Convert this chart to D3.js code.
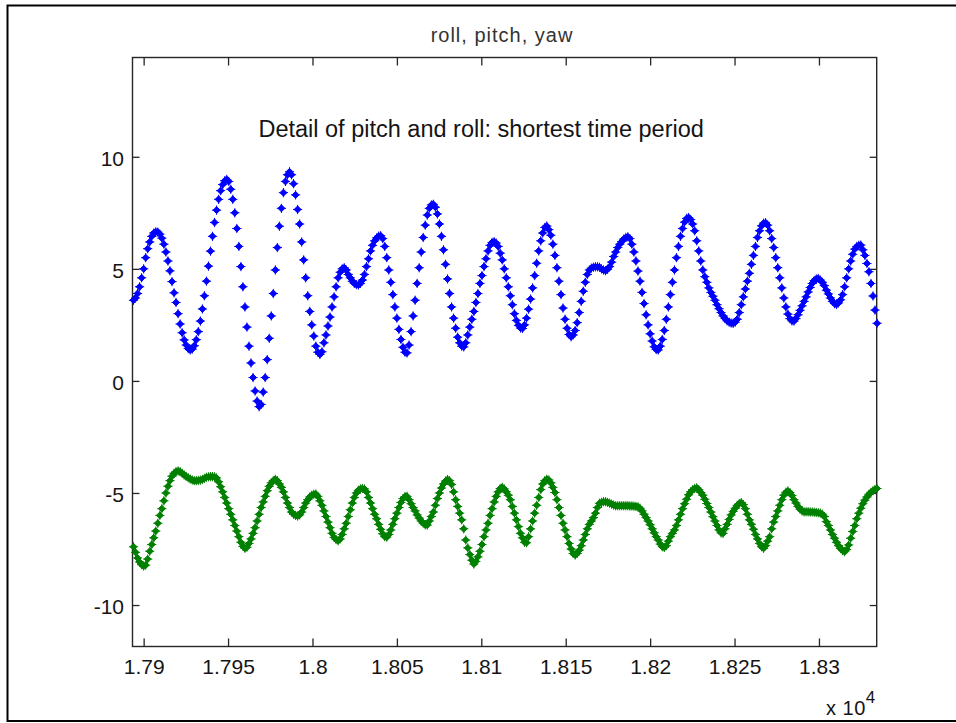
<!DOCTYPE html>
<html>
<head>
<meta charset="utf-8">
<script src="https://cdn.jsdelivr.net/npm/d3@7"></script>
<style>
  body { margin: 0; background: #fff; }
  text { font-family: "Liberation Sans", Arial, sans-serif; fill: #141414; }
</style>
</head>
<body>
<svg id="chart" width="956" height="723"></svg>
<script>
// sample start and spacing (x data, plotted as value / 1e4)
const t0 = 17894;
const dt = 1.2;

// blue series
const pitch = [
    3.6, 3.7, 3.9, 4.2, 4.6, 5.0, 5.5, 5.9, 6.2, 6.45,
    6.6, 6.65, 6.64, 6.55, 6.37, 6.1, 5.75, 5.35, 4.91, 4.43,
    3.93, 3.5, 3.0, 2.54, 2.15, 1.83, 1.6, 1.44, 1.38, 1.42,
    1.57, 1.84, 2.2, 2.67, 3.21, 3.8, 4.45, 5.12, 5.79, 6.45,
    7.07, 7.62, 8.1, 8.49, 8.76, 8.93, 8.99, 8.9, 8.55, 8.1,
    7.5, 6.8, 6.0, 5.1, 4.2, 3.3, 2.4, 1.55, 0.8, 0.15,
    -0.45, -0.9, -1.15, -1.05, -0.5, 0.15, 0.95, 1.9, 2.9, 3.9,
    4.95, 5.95, 6.9, 7.7, 8.4, 8.9, 9.2, 9.33, 9.2, 8.8,
    8.3, 7.65, 7.0, 6.2, 5.4, 4.6, 3.8, 3.1, 2.5, 2.0,
    1.55, 1.28, 1.18, 1.3, 1.7, 2.05, 2.45, 2.85, 3.3, 3.75,
    4.2, 4.6, 4.85, 5.0, 5.05, 4.95, 4.75, 4.6, 4.45, 4.35,
    4.3, 4.28, 4.35, 4.5, 4.75, 5.1, 5.45, 5.8, 6.05, 6.25,
    6.38, 6.46, 6.48, 6.35, 6.0, 5.5, 4.95, 4.4, 3.85, 3.3,
    2.8, 2.3, 1.85, 1.5, 1.28, 1.25, 1.6, 2.2, 2.9, 3.6,
    4.35, 5.05, 5.75, 6.4, 6.95, 7.4, 7.7, 7.85, 7.88, 7.75,
    7.45, 7.0, 6.45, 5.85, 5.2, 4.55, 3.9, 3.3, 2.8, 2.35,
    1.95, 1.7, 1.55, 1.52, 1.7, 2.05, 2.4, 2.75, 3.1, 3.5,
    3.9, 4.35, 4.7, 5.1, 5.45, 5.8, 6.05, 6.18, 6.21, 6.15,
    6.0, 5.7, 5.4, 5.0, 4.6, 4.2, 3.8, 3.4, 3.0, 2.7,
    2.48, 2.36, 2.34, 2.5, 2.8, 3.2, 3.65, 4.15, 4.7, 5.25,
    5.8, 6.25, 6.6, 6.85, 6.91, 6.75, 6.5, 6.1, 5.6, 5.05,
    4.45, 3.85, 3.25, 2.75, 2.35, 2.07, 1.97, 2.05, 2.25, 2.6,
    3.05, 3.55, 4.0, 4.4, 4.75, 4.95, 5.03, 5.07, 5.09, 5.09,
    5.07, 5.0, 4.95, 4.92, 4.98, 5.1, 5.3, 5.55, 5.75, 5.95,
    6.1, 6.22, 6.33, 6.4, 6.43, 6.35, 6.1, 5.75, 5.35, 4.9,
    4.45, 3.95, 3.45, 2.95, 2.5, 2.1, 1.78, 1.52, 1.4, 1.38,
    1.55, 1.85, 2.25, 2.75, 3.3, 3.85, 4.4, 4.95, 5.5, 6.0,
    6.45, 6.8, 7.08, 7.25, 7.29, 7.2, 7.0, 6.7, 6.25, 5.8,
    5.35, 4.95, 4.65, 4.4, 4.15, 3.95, 3.78, 3.6, 3.4, 3.22,
    3.05, 2.9, 2.78, 2.68, 2.62, 2.58, 2.57, 2.62, 2.75, 3.05,
    3.4, 3.75, 4.1, 4.45, 4.8, 5.2, 5.6, 6.0, 6.4, 6.7,
    6.92, 7.04, 7.06, 6.95, 6.7, 6.35, 5.95, 5.5, 5.05, 4.6,
    4.15, 3.7, 3.3, 2.98, 2.78, 2.68, 2.67, 2.78, 2.95, 3.15,
    3.35, 3.55, 3.75, 3.97, 4.17, 4.35, 4.48, 4.55, 4.57, 4.5,
    4.4, 4.25, 4.05, 3.88, 3.7, 3.55, 3.45, 3.41, 3.48, 3.62,
    3.85, 4.2, 4.6, 5.0, 5.35, 5.65, 5.88, 6.0, 6.05, 6.06,
    5.85, 5.6, 5.24, 4.87, 4.35, 3.79, 3.16, 2.57
];

// green series
const roll = [
    -7.4, -7.65, -7.9, -8.08, -8.2, -8.26, -8.22, -7.95, -7.6, -7.3,
    -7.0, -6.7, -6.35, -6.0, -5.7, -5.35, -5.0, -4.7, -4.45, -4.25,
    -4.12, -4.05, -4.02, -4.05, -4.12, -4.2, -4.26, -4.32, -4.38, -4.42,
    -4.45, -4.45, -4.44, -4.43, -4.4, -4.35, -4.3, -4.28, -4.27, -4.27,
    -4.28, -4.33, -4.5, -4.72, -4.95, -5.2, -5.45, -5.7, -5.95, -6.2,
    -6.45, -6.7, -6.95, -7.2, -7.38, -7.47, -7.42, -7.25, -7.05, -6.8,
    -6.55, -6.25, -5.95, -5.65, -5.4, -5.15, -4.9, -4.7, -4.55, -4.45,
    -4.39, -4.45, -4.6, -4.75, -4.95, -5.2, -5.45, -5.65, -5.85, -5.95,
    -6.0, -6.03, -5.98, -5.85, -5.65, -5.45, -5.3, -5.18, -5.1, -5.06,
    -5.05, -5.15, -5.35, -5.55, -5.8, -6.05, -6.3, -6.55, -6.8, -6.98,
    -7.08, -7.13, -7.05, -6.85, -6.6, -6.35, -6.05, -5.75, -5.45, -5.2,
    -5.0, -4.88, -4.82, -4.8, -4.82, -4.95, -5.2, -5.45, -5.7, -5.95,
    -6.15, -6.4, -6.62, -6.82, -6.95, -6.97, -6.85, -6.65, -6.4, -6.15,
    -5.9, -5.65, -5.42, -5.25, -5.16, -5.15, -5.3, -5.48, -5.65, -5.8,
    -5.98, -6.12, -6.25, -6.35, -6.42, -6.43, -6.25, -6.05, -5.85, -5.55,
    -5.25, -5.0, -4.78, -4.6, -4.47, -4.4, -4.45, -4.62, -4.95, -5.3,
    -5.6, -5.9, -6.2, -6.6, -7.1, -7.45, -7.75, -8.0, -8.17, -8.05,
    -7.85, -7.6, -7.3, -6.95, -6.65, -6.35, -6.0, -5.7, -5.4, -5.15,
    -4.95, -4.8, -4.75, -4.82, -4.95, -5.1, -5.3, -5.6, -5.9, -6.2,
    -6.5, -6.8, -7.0, -7.2, -7.22, -6.95, -6.6, -6.25, -5.9, -5.55,
    -5.2, -4.85, -4.6, -4.45, -4.39, -4.42, -4.55, -4.75, -4.98, -5.3,
    -5.65, -6.0, -6.35, -6.65, -6.95, -7.25, -7.5, -7.7, -7.77, -7.7,
    -7.55, -7.35, -7.1, -6.85, -6.6, -6.4, -6.25, -6.1, -5.9, -5.65,
    -5.46, -5.42, -5.39, -5.39, -5.42, -5.46, -5.5, -5.54, -5.57, -5.57,
    -5.57, -5.57, -5.57, -5.57, -5.57, -5.58, -5.58, -5.59, -5.6, -5.62,
    -5.68, -5.8, -5.95, -6.1, -6.25, -6.42, -6.6, -6.78, -6.95, -7.1,
    -7.28, -7.4, -7.43, -7.35, -7.15, -6.95, -6.8, -6.65, -6.45, -6.2,
    -5.95, -5.7, -5.48, -5.28, -5.08, -4.95, -4.85, -4.8, -4.77, -4.85,
    -4.98, -5.1, -5.28, -5.47, -5.65, -5.85, -6.06, -6.25, -6.45, -6.65,
    -6.78, -6.8, -6.6, -6.4, -6.18, -5.98, -5.82, -5.68, -5.55, -5.47,
    -5.43, -5.52, -5.7, -5.95, -6.2, -6.4, -6.62, -6.85, -7.05, -7.25,
    -7.4, -7.47, -7.35, -7.15, -6.95, -6.6, -6.3, -6.05, -5.8, -5.55,
    -5.3, -5.1, -4.97, -4.91, -4.98, -5.12, -5.3, -5.45, -5.6, -5.72,
    -5.8, -5.84, -5.84, -5.84, -5.85, -5.85, -5.86, -5.87, -5.88, -5.9,
    -5.95, -6.05, -6.28, -6.45, -6.65, -6.85, -7.02, -7.2, -7.35, -7.48,
    -7.57, -7.62, -7.52, -7.32, -7.02, -6.72, -6.45, -6.15, -5.9, -5.68,
    -5.48, -5.32, -5.18, -5.06, -4.97, -4.9, -4.84, -4.8
];

const xTicks = [17900, 17950, 18000, 18050, 18100, 18150, 18200, 18250, 18300];
const xTickLabels = ['1.79', '1.795', '1.8', '1.805', '1.81', '1.815', '1.82', '1.825', '1.83'];
const yTicks = [-10, -5, 0, 5, 10];
const xDomain = [17893.4, 18334.2];
const yDomain = [-11.85, 14.43];

const title = 'roll, pitch, yaw';
const note = 'Detail of pitch and roll: shortest time period';
const noteAt = [17968, 10.9];

const box = {left: 132.5, right: 876.7, top: 57.5, bottom: 646.5};
const axisColor = '#262626';

const svg = d3.select('#chart');

const x = d3.scaleLinear().domain(xDomain).range([box.left, box.right]);
const y = d3.scaleLinear().domain(yDomain).range([box.bottom, box.top]);

// figure frame
svg.append('rect')
    .attr('x', 7.5)
    .attr('y', 5.5)
    .attr('width', 960)
    .attr('height', 715.5)
    .attr('fill', 'none')
    .attr('stroke', '#000')
    .attr('stroke-width', 2);

function styleAxis(g) {
    g.attr('color', axisColor).attr('font-size', 21).attr('font-family', null);
    g.select('.domain').remove();
    g.selectAll('.tick line').attr('stroke-width', 1.3);
}

svg.append('g')
    .attr('transform', `translate(0,${box.bottom})`)
    .call(d3.axisBottom(x).tickValues(xTicks).tickSize(-8).tickSizeOuter(0)
        .tickFormat((d, i) => xTickLabels[i]))
    .call(styleAxis)
    .selectAll('text')
    .attr('y', 27)
    .attr('dy', null);

svg.append('g')
    .attr('transform', `translate(0,${box.top})`)
    .call(d3.axisTop(x).tickValues(xTicks).tickSize(-8).tickSizeOuter(0).tickFormat(''))
    .call(styleAxis);

svg.append('g')
    .attr('transform', `translate(${box.left},0)`)
    .call(d3.axisLeft(y).tickValues(yTicks).tickSize(-7).tickSizeOuter(0)
        .tickFormat(d => String(d)))
    .call(styleAxis)
    .selectAll('text')
    .attr('x', -8.5)
    .attr('y', 8.5)
    .attr('dy', null);

svg.append('g')
    .attr('transform', `translate(${box.right},0)`)
    .call(d3.axisRight(y).tickValues(yTicks).tickSize(-7).tickSizeOuter(0).tickFormat(''))
    .call(styleAxis);

svg.append('rect')
    .attr('x', box.left)
    .attr('y', box.top)
    .attr('width', box.right - box.left)
    .attr('height', box.bottom - box.top)
    .attr('fill', 'none')
    .attr('stroke', axisColor)
    .attr('stroke-width', 1.4);

// exponent label
const expo = svg.append('text')
    .attr('x', 826)
    .attr('y', 715)
    .style('font-size', '20px')
    .style('letter-spacing', '0.5px');
expo.append('tspan').text('x 10');
expo.append('tspan')
    .attr('dy', -12)
    .style('font-size', '17px')
    .text('4');

svg.append('text')
    .attr('x', 502)
    .attr('y', 42)
    .attr('text-anchor', 'middle')
    .style('font-size', '20px')
    .style('letter-spacing', '1px')
    .style('fill', '#333')
    .text(title);

svg.append('text')
    .attr('x', x(noteAt[0]))
    .attr('y', y(noteAt[1]))
    .style('font-size', '23.5px')
    .text(note);

// markers
const marker = 'M0,-3.5L3.5,0L0,3.5L-3.5,0Z M-4.6,0H4.6M0,-4.6V4.6';

function addSeries(values, color) {
    svg.append('g')
        .selectAll('path')
        .data(values)
        .enter()
        .append('path')
        .attr('transform', (v, i) => `translate(${x(t0 + i * dt)},${y(v)})`)
        .attr('d', marker)
        .attr('fill', color)
        .attr('stroke', color)
        .attr('stroke-width', 1);
}

addSeries(pitch, '#0000ff');
addSeries(roll, '#008000');
</script>
</body>
</html>
